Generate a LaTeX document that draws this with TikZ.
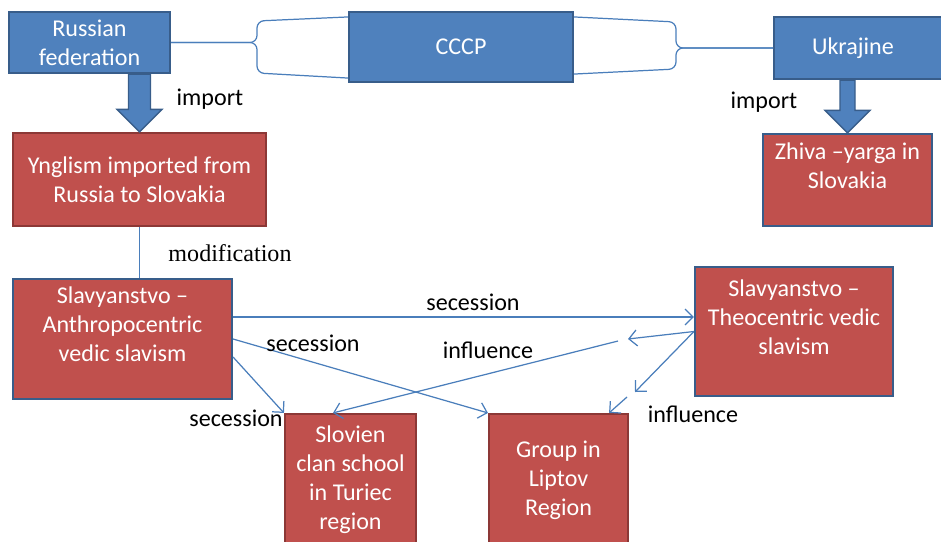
\documentclass[tikz,border=0pt]{standalone}
\usepackage{fontspec}
\setmainfont{Carlito}
\newfontfamily\timesfont{Liberation Serif}
\usetikzlibrary{arrows.meta}
\usetikzlibrary{calc}
\usetikzlibrary{positioning}

\definecolor{boxblue}{HTML}{4F81BD}
\definecolor{blueline}{HTML}{385D8A}
\definecolor{boxred}{HTML}{C0504D}
\definecolor{redline}{HTML}{8C3836}
\definecolor{linkblue}{HTML}{4A7EBB}

\tikzset{
  bluebox/.style={rectangle, draw=blueline, fill=boxblue, line width=1.2pt, text=white, align=center},
  redbox/.style={rectangle, draw=redline, fill=boxred, line width=1.2pt, text=white, align=center},
  link/.style={draw=linkblue, line width=0.7pt, -{Straight Barb[length=1.6mm,width=3.2mm]}},
  brace/.style={draw=linkblue, line width=0.7pt, rounded corners=4pt},
  tag/.style={text=black}
}

% fat block arrow between two named points
\newcommand{\fatarrow}[3][0.22]{%
  \filldraw[fill=boxblue, draw=blueline, line width=0.8pt]
    ($(#2)+(-#1,0)$) -- ($(#3)+(-#1,0.45)$) -- ($(#3)+(-0.45,0.45)$) -- (#3)
    -- ($(#3)+(0.45,0.45)$) -- ($(#3)+(#1,0.45)$) -- ($(#2)+(#1,0)$) -- cycle;}

\begin{document}
\begin{tikzpicture}[every node/.style={font=\fontsize{13.7}{16.5}\selectfont}]
\useasboundingbox (0,0) rectangle (18.82,-10.82);

% top row
\node[bluebox, minimum width=3.22cm, minimum height=1.22cm] (rus) at (1.79,-0.85) {Russian\\ federation};
\node[bluebox, minimum width=4.48cm, minimum height=1.4cm] (cccp) at (9.22,-0.94) {CCCP};
\node[bluebox, anchor=west, minimum width=4cm, minimum height=1.24cm, text width=2.48cm, align=left] (ukr) at (15.46,-0.96) {Ukrajine};

% braces
\draw[brace] (rus.east) -- (5.14,-0.85) -- (5.14,-0.42) -- ([yshift=-0.12cm]cccp.north west);
\draw[brace] (rus.east) -- (5.14,-0.85) -- (5.14,-1.46) -- ([yshift=0.1cm]cccp.south west);
\draw[brace] ([yshift=-0.12cm]cccp.north east) -- (13.52,-0.44) -- (13.52,-0.96) -- (ukr.west);
\draw[brace] ([yshift=0.18cm]cccp.south east) -- (13.52,-1.38) -- (13.52,-0.96) -- (ukr.west);

% imported groups
\node[redbox, minimum width=5.06cm, minimum height=1.86cm] (yng) at (2.79,-3.59) {Ynglism imported from\\ Russia to Slovakia};
\node[redbox, draw=blueline, minimum width=3.38cm, minimum height=1.84cm] (zhiva) at (16.95,-3.6) {Zhiva --yarga in\\ Slovakia\\ ~};

\coordinate (rusfoot) at (yng.north |- rus.south);
\coordinate (ukrfoot) at (zhiva.north |- ukr.south);
\fatarrow{rusfoot}{yng.north}
\fatarrow[0.15]{ukrfoot}{zhiva.north}

\node[tag] (imp1) at (4.2,-1.98) {import};
\node[tag] (imp2) at (15.28,-2.04) {import};

% slavyanstvo branches
\node[redbox, draw=blueline, minimum width=4.38cm, minimum height=2.4cm] (anthro) at (2.45,-6.78) {Slavyanstvo --\\ Anthropocentric\\ vedic slavism\\ ~};
\node[redbox, draw=blueline, minimum width=3.96cm, minimum height=2.58cm] (theo) at (15.88,-6.63) {Slavyanstvo --\\ Theocentric vedic\\ slavism\\ ~};
\node[redbox, minimum width=2.62cm, minimum height=2.64cm] (slov) at (7.01,-9.6) {Slovien\\ clan school\\ in Turiec\\ region};
\node[redbox, minimum width=2.78cm, minimum height=2.64cm] (group) at (11.17,-9.6) {Group in\\ Liptov\\ Region};

\draw[draw=linkblue, line width=0.7pt] (yng.south) -- (yng.south |- anthro.north);
\node[tag, font=\timesfont\fontsize{13.7}{16.5}\selectfont] (modif) at (4.6,-5.06) {modification};

\draw[link] ([yshift=0.44cm]anthro.east) -- ([yshift=0.44cm]anthro.east -| theo.west);
\draw[link] (anthro.east) -- (group.north west);
\draw[link] ([yshift=-0.36cm]anthro.east) -- (slov.north west);

\coordinate (inf1) at (12.56,-6.78);
\coordinate (inf1b) at (12.36,-6.82);
\coordinate (inf2) at (12.7,-7.84);
\coordinate (inf2b) at (12.54,-7.94);
\draw[link] (theo.west) -- (inf1);
\draw[link] (inf1b) -- ([xshift=-0.35cm]slov.north);
\draw[link] (theo.west) -- (inf2);
\draw[link] (inf2b) -- ([xshift=-0.4cm]group.north east);

\node[tag] (sec1) at (9.46,-6.04) {secession};
\node[tag] (sec2) at (6.26,-6.86) {secession};
\node[tag] (sec3) at (4.72,-8.36) {secession};
\node[tag] (inf3) at (9.76,-7.0) {influence};
\node[tag] (inf4) at (13.86,-8.28) {influence};
\end{tikzpicture}
\end{document}
